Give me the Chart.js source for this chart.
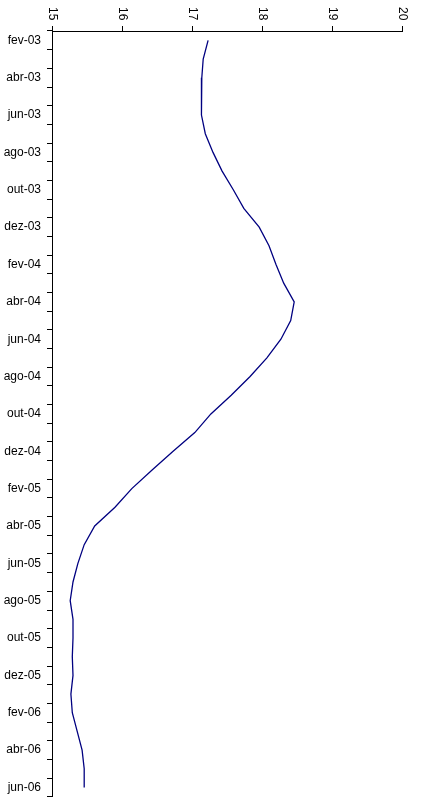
<!DOCTYPE html>
<html>
<head>
<meta charset="utf-8">
<script src="https://cdn.jsdelivr.net/npm/chart.js@4"></script>
<style>
  html, body { margin: 0; padding: 0; background: #fff; overflow: hidden; }
  #wrap { width: 421px; height: 810px; }
</style>
</head>
<body>
<div id="wrap"><canvas id="chart"></canvas></div>
<script>
// Monthly categories, Feb 2003 to Jun 2006
const months = ['fev-03','mar-03','abr-03','mai-03','jun-03','jul-03','ago-03','set-03','out-03','nov-03','dez-03',
  'jan-04','fev-04','mar-04','abr-04','mai-04','jun-04','jul-04','ago-04','set-04','out-04','nov-04','dez-04',
  'jan-05','fev-05','mar-05','abr-05','mai-05','jun-05','jul-05','ago-05','set-05','out-05','nov-05','dez-05',
  'jan-06','fev-06','mar-06','abr-06','mai-06','jun-06'];

const values = [17.23, 17.16, 17.14, 17.13, 17.14, 17.19, 17.30, 17.43, 17.59, 17.74, 17.96,
  18.10, 18.20, 18.31, 18.46, 18.41, 18.27, 18.07, 17.83, 17.56, 17.27, 17.04, 16.73,
  16.43, 16.14, 15.90, 15.61, 15.46, 15.37, 15.30, 15.26, 15.30, 15.30, 15.29, 15.30,
  15.27, 15.29, 15.36, 15.43, 15.46, 15.46];

const xMin = 15;
const xMax = 20;

Chart.defaults.font.family = '"Liberation Sans", Arial, sans-serif';
Chart.defaults.font.size = 12;
Chart.defaults.color = '#000';

// draw the top value labels rotated clockwise (text reading downwards)
const rotatedTop = {
  id: 'rotatedTop',
  afterDraw(chart) {
    const sx = chart.scales.x;
    const c = chart.ctx;
    c.save();
    c.font = '12px "Liberation Sans", Arial, sans-serif';
    c.fillStyle = '#000';
    c.textAlign = 'left';
    c.textBaseline = 'middle';
    sx.ticks.forEach(t => {
      const px = sx.getPixelForValue(t.value);
      c.save();
      c.translate(px, 7);
      c.rotate(Math.PI / 2);
      c.fillText(String(t.value), 0, 0);
      c.restore();
    });
    c.restore();
  }
};

const ctx = document.getElementById('chart').getContext('2d');
new Chart(ctx, {
  type: 'line',
  data: {
    labels: months,
    datasets: [{
      data: values,
      borderColor: '#000080',
      borderWidth: 1.3,
      pointRadius: 0,
      fill: false,
      tension: 0
    }]
  },
  options: {
    indexAxis: 'y',
    responsive: true,
    maintainAspectRatio: false,
    animation: false,
    layout: { padding: { top: 0, right: 19, bottom: 1, left: 0 } },
    plugins: { legend: { display: false }, tooltip: { enabled: false } },
    scales: {
      x: {
        position: 'top',
        min: xMin,
        max: xMax,
        afterFit: s => { s.height = 31; },
        ticks: { stepSize: 1, maxRotation: 90, minRotation: 90, color: 'rgba(0,0,0,0)' },
        grid: { drawOnChartArea: false, color: '#000', tickLength: 5 },
        border: { color: '#000' }
      },
      y: {
        offset: true,
        afterFit: s => { s.width = 52; },
        ticks: {
          autoSkip: false,
          padding: 6,
          callback: function(v, i) { return i % 2 === 0 ? months[i] : ''; }
        },
        grid: { offset: true, drawOnChartArea: false, color: '#000', tickLength: 5 },
        border: { color: '#000' }
      }
    }
  },
  plugins: [rotatedTop]
});
</script>
</body>
</html>
